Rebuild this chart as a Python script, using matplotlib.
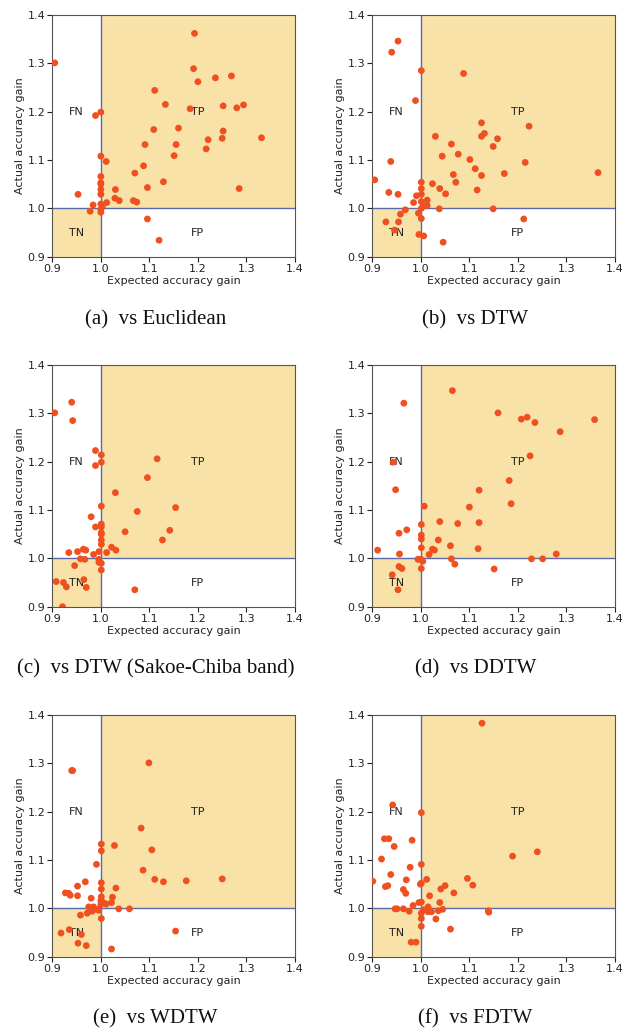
import matplotlib
matplotlib.use("Agg")
import matplotlib.pyplot as plt

ticks = [0.9, 1.0, 1.1, 1.2, 1.3, 1.4]
tick_labels = ["0.9", "1.0", "1.1", "1.2", "1.3", "1.4"]
captions = ["(a)  vs Euclidean", "(b)  vs DTW", "(c)  vs DTW (Sakoe-Chiba band)",
            "(d)  vs DDTW", "(e)  vs WDTW", "(f)  vs FDTW"]
quadrant_names = ["FN", "TP", "TN", "FP"]
quadrant_x = [0.95, 1.2, 0.95, 1.2]
quadrant_y = [1.2, 1.2, 0.95, 0.95]

a_x = [0.905, 1.193, 1.191, 1.200, 1.236, 1.269, 1.111, 1.133, 1.184, 1.252, 1.280, 1.294,
       0.989, 1.000, 1.109, 1.160, 1.091, 1.155, 1.221, 1.252, 1.250, 1.217, 1.331, 1.151,
       1.000, 1.011, 1.088, 1.070, 1.129, 1.096, 1.285, 1.000, 1.000, 1.000, 1.000, 1.000,
       0.953, 1.030, 1.029, 1.038, 1.067, 1.074, 1.012, 0.984, 1.000, 1.003, 1.000, 0.978,
       1.000, 1.096, 1.120]
a_y = [1.301, 1.362, 1.289, 1.262, 1.270, 1.274, 1.244, 1.215, 1.206, 1.212, 1.208, 1.214,
       1.192, 1.199, 1.163, 1.166, 1.132, 1.132, 1.142, 1.160, 1.145, 1.123, 1.146, 1.109,
       1.108, 1.097, 1.088, 1.073, 1.055, 1.043, 1.041, 1.066, 1.053, 1.050, 1.039, 1.029,
       1.029, 1.039, 1.021, 1.016, 1.016, 1.013, 1.012, 1.007, 1.009, 1.003, 0.998, 0.994,
       0.992, 0.978, 0.934]

b_x = [0.905, 0.953, 0.940, 1.001, 1.088, 0.989, 1.125, 1.223, 1.030, 1.125, 1.131, 1.158,
       1.063, 1.149, 1.077, 1.044, 1.101, 0.938, 1.215, 1.112, 1.067, 1.125, 1.172, 1.365,
       1.072, 1.001, 1.024, 1.001, 1.039, 1.051, 1.116, 0.934, 0.953, 0.991, 1.001, 0.985,
       1.001, 1.013, 1.013, 1.005, 1.001, 1.038, 1.149, 0.968, 0.958, 0.995, 1.001, 0.928,
       0.954, 0.946, 1.212, 0.996, 1.006, 1.046]
b_y = [1.059, 1.346, 1.323, 1.285, 1.279, 1.223, 1.177, 1.170, 1.149, 1.149, 1.155, 1.144,
       1.133, 1.128, 1.112, 1.108, 1.101, 1.097, 1.095, 1.082, 1.070, 1.068, 1.072, 1.074,
       1.054, 1.054, 1.051, 1.041, 1.041, 1.030, 1.038, 1.033, 1.029, 1.026, 1.029, 1.012,
       1.014, 1.017, 1.006, 1.005, 1.000, 0.999, 0.999, 0.997, 0.988, 0.990, 0.979, 0.972,
       0.972, 0.955, 0.978, 0.946, 0.943, 0.930]

c_x = [0.905, 0.940, 0.942, 0.989, 1.001, 1.001, 0.989, 1.116, 1.096, 1.030, 1.001, 1.075,
       1.154, 0.980, 0.989, 1.001, 1.001, 1.001, 1.001, 1.001, 1.001, 1.050, 1.142, 1.127,
       1.022, 1.031, 1.012, 0.934, 0.952, 0.964, 0.969, 0.985, 0.996, 0.958, 0.967, 0.996,
       0.996, 1.001, 0.946, 1.001, 0.908, 0.923, 0.929, 0.965, 0.970, 1.070, 0.921]
c_y = [1.301, 1.323, 1.285, 1.223, 1.214, 1.199, 1.192, 1.206, 1.167, 1.136, 1.108, 1.097,
       1.105, 1.086, 1.065, 1.071, 1.065, 1.053, 1.050, 1.038, 1.029, 1.055, 1.058, 1.038,
       1.023, 1.017, 1.012, 1.012, 1.014, 1.019, 1.017, 1.008, 1.014, 0.999, 0.998, 0.998,
       0.992, 0.990, 0.985, 0.976, 0.952, 0.950, 0.941, 0.956, 0.940, 0.935, 0.900]

d_x = [1.065, 0.965, 1.159, 1.207, 1.219, 1.235, 1.358, 1.287, 1.225, 0.943, 1.182, 0.948,
       1.120, 1.186, 1.100, 1.007, 1.001, 1.039, 1.076, 1.120, 0.955, 0.971, 1.001, 1.001,
       1.036, 1.061, 1.001, 1.024, 1.028, 1.017, 0.956, 0.911, 1.118, 1.279, 1.228, 1.251,
       0.994, 1.000, 1.004, 1.063, 1.070, 1.001, 0.955, 0.961, 1.151, 0.941, 0.953]
d_y = [1.347, 1.321, 1.301, 1.288, 1.292, 1.281, 1.287, 1.262, 1.212, 1.199, 1.161, 1.142,
       1.141, 1.113, 1.106, 1.108, 1.070, 1.076, 1.072, 1.074, 1.052, 1.059, 1.048, 1.040,
       1.038, 1.026, 1.022, 1.019, 1.017, 1.008, 1.009, 1.017, 1.020, 1.009, 0.999, 0.999,
       0.998, 0.998, 0.994, 0.999, 0.988, 0.979, 0.983, 0.979, 0.978, 0.966, 0.935]

e_x = [1.099, 0.940, 0.942, 1.083, 1.001, 1.028, 1.001, 1.105, 0.991, 1.087, 1.111, 1.129,
       1.176, 1.250, 0.968, 0.952, 1.001, 1.001, 1.031, 0.927, 0.934, 0.937, 0.952, 0.980,
       1.001, 1.024, 1.022, 1.005, 1.011, 1.000, 1.000, 0.975, 0.985, 0.991, 0.996, 0.982,
       1.037, 1.059, 0.972, 0.958, 1.001, 0.918, 0.935, 0.960, 0.953, 0.970, 1.022, 1.154]
e_y = [1.301, 1.285, 1.285, 1.166, 1.133, 1.130, 1.119, 1.121, 1.091, 1.079, 1.060, 1.055,
       1.057, 1.061, 1.055, 1.046, 1.053, 1.040, 1.042, 1.032, 1.031, 1.027, 1.026, 1.021,
       1.024, 1.023, 1.012, 1.012, 1.009, 1.016, 1.008, 1.003, 1.003, 0.998, 0.996, 0.994,
       0.999, 0.999, 0.990, 0.986, 0.979, 0.949, 0.956, 0.946, 0.928, 0.923, 0.916, 0.953]

f_x = [1.126, 0.942, 1.001, 0.925, 0.934, 0.982, 0.945, 0.919, 1.189, 1.240, 1.001, 0.978,
       0.938, 0.901, 0.970, 1.012, 0.999, 1.001, 1.096, 1.107, 0.927, 0.932, 0.964, 0.969,
       1.050, 1.041, 1.068, 1.018, 1.039, 0.984, 0.996, 1.001, 0.947, 0.951, 0.964, 0.976,
       1.015, 1.005, 1.015, 1.022, 1.036, 1.045, 1.001, 1.031, 1.001, 1.139, 1.140, 1.001,
       1.061, 0.980, 0.990]
f_y = [1.383, 1.214, 1.198, 1.144, 1.144, 1.141, 1.128, 1.102, 1.108, 1.117, 1.091, 1.085,
       1.070, 1.056, 1.059, 1.060, 1.050, 1.052, 1.062, 1.048, 1.045, 1.047, 1.039, 1.031,
       1.047, 1.040, 1.032, 1.026, 1.012, 1.006, 1.012, 1.013, 0.999, 0.999, 0.999, 0.994,
       1.003, 0.997, 0.993, 0.993, 0.995, 0.998, 0.990, 0.978, 0.979, 0.995, 0.992, 0.963,
       0.957, 0.930, 0.930]

panels_x = [a_x, b_x, c_x, d_x, e_x, f_x]
panels_y = [a_y, b_y, c_y, d_y, e_y, f_y]

W, H = 625, 1028
fig = plt.figure(figsize=(W / 100, H / 100), dpi=100)

lefts = [52.3, 372.3]
tops = [15, 365, 715]
aw, ah = 242.7, 241.7
caption_y = [320, 669, 1019]
caption_x = [155.5, 475.5]

fill_c = "#f8e2a8"
line_c = "#5a68ae"
dot_c = "#f0501f"

for i in range(6):
    r, c = divmod(i, 2)
    ax = fig.add_axes([lefts[c] / W, 1 - (tops[r] + ah) / H, aw / W, ah / H])
    ax.set_xlim(0.9, 1.4)
    ax.set_ylim(0.9, 1.4)
    ax.axvspan(1.0, 1.4, ymin=0.2, ymax=1.0, color=fill_c, lw=0, zorder=0)
    ax.axvspan(0.9, 1.0, ymin=0.0, ymax=0.2, color=fill_c, lw=0, zorder=0)
    ax.axvline(1.0, color=line_c, lw=1.0, zorder=1)
    ax.axhline(1.0, color=line_c, lw=1.0, zorder=1)
    for name, qx, qy in zip(quadrant_names, quadrant_x, quadrant_y):
        ax.text(qx, qy, name, ha="center", va="center", fontsize=8, color="#222222", zorder=2)
    ax.scatter(panels_x[i], panels_y[i], s=24, color=dot_c, edgecolors="none", zorder=3, clip_on=True)
    ax.set_xticks(ticks)
    ax.set_xticklabels(tick_labels)
    ax.set_yticks(ticks)
    ax.set_yticklabels(tick_labels)
    ax.tick_params(labelsize=8, length=3.5, width=0.8, pad=1.5, colors="#222222")
    for s in ax.spines.values():
        s.set_color("#555555")
        s.set_linewidth(0.8)
    ax.set_xlabel("Expected accuracy gain", fontsize=8, labelpad=1.5, color="#222222")
    ax.set_ylabel("Actual accuracy gain", fontsize=8, labelpad=2, color="#222222")
    fig.text(caption_x[c] / W, 1 - caption_y[r] / H, captions[i], ha="center", va="center",
             fontsize=15, family="Liberation Serif", color="#111111")

fig.savefig("out.png", dpi=100)
